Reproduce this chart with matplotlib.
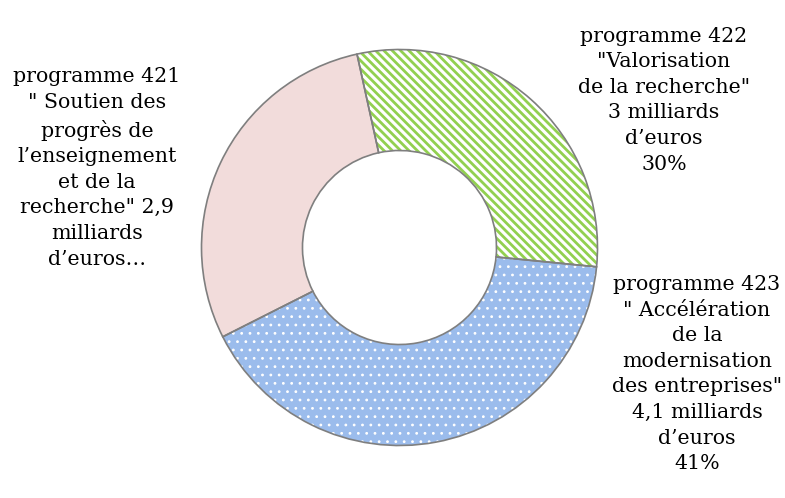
import matplotlib
matplotlib.use('Agg')
import matplotlib.pyplot as plt

# Budget by programme (milliards d'euros)
programmes = ['421', '422', '423']
values = [2.9, 3.0, 4.1]
labels = [
    'programme 421\n" Soutien des\nprogrès de\nl\u2019enseignement\net de la\nrecherche" 2,9\nmilliards\nd\u2019euros\u2026',
    'programme 422\n"Valorisation\nde la recherche"\n3 milliards\nd\u2019euros\n30%',
    'programme 423\n" Accélération\nde la\nmodernisation\ndes entreprises"\n4,1 milliards\nd\u2019euros\n41%',
]

W, H = 785, 498
plt.rcParams['font.family'] = 'DejaVu Serif'
plt.rcParams['hatch.linewidth'] = 2.0

fig = plt.figure(figsize=(W / 100, H / 100), dpi=100)
# centre of the ring at (399.5, 247.5) px, outer radius 198 px
cx, cy, r = 399.5, 247.5, 198
ax = fig.add_axes([(cx - r) / W, (H - cy - r) / H, 2 * r / W, 2 * r / H])

faces = ['#f2dcdb', 'white', '#9bbcec']
hatch_cols = ['#f2dcdb', '#92d050', 'white']
hatches = [None, '\\\\\\\\', '..']
hatch_lw = [2.0, 2.0, 0.8]

wedges, _ = ax.pie(values, radius=1, startangle=-153.2, counterclock=False,
                   wedgeprops=dict(width=0.51, linewidth=0))
for w, fc, hc, h, hl in zip(wedges, faces, hatch_cols, hatches, hatch_lw):
    w.set_facecolor(fc)
    w.set_edgecolor(hc)
    if h:
        w.set_hatch(h)
    if hasattr(w, 'set_hatch_linewidth'):
        w.set_hatch_linewidth(hl)
    else:
        w._hatch_linewidth = hl

# outlines drawn on top
ax.pie(values, radius=1, startangle=-153.2, counterclock=False,
       colors=['none'] * 3,
       wedgeprops=dict(width=0.51, linewidth=1.2, edgecolor='#7f7f7f', fill=False))
ax.set_xlim(-1, 1)
ax.set_ylim(-1, 1)
ax.axis('off')

label_pos = [(97, 168), (664, 100), (697, 374)]
for txt, (x, y) in zip(labels, label_pos):
    fig.text(x / W, 1 - y / H, txt, ha='center', va='center', multialignment='center',
             fontsize=14.8, linespacing=1.44, color='black')

fig.savefig('out.png', dpi=100)
